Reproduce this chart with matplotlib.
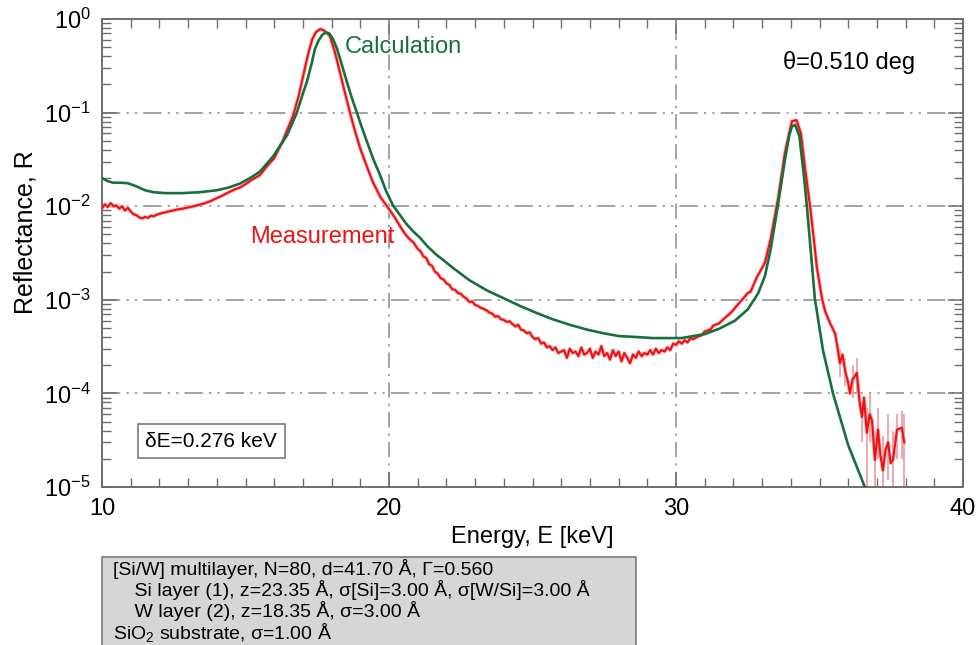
import matplotlib
matplotlib.use("Agg")
import matplotlib.pyplot as plt
from matplotlib.patches import Rectangle
from matplotlib.ticker import FixedLocator, LogLocator, NullFormatter

plt.rcParams['font.family'] = ['Liberation Sans', 'DejaVu Sans']
plt.rcParams['mathtext.fontset'] = 'custom'
plt.rcParams['mathtext.rm'] = 'Liberation Sans'
plt.rcParams['mathtext.it'] = 'Liberation Sans:italic'

# ---------------- data ----------------
calc_E = [10.0, 10.2, 10.4, 10.7, 10.9, 11.2, 11.5, 11.8, 12.2, 12.8, 13.4, 14.0, 14.4,
          14.8, 15.16, 15.5, 15.96, 16.45, 16.79, 17.0, 17.14, 17.3, 17.42, 17.55, 17.68,
          17.8, 17.92, 18.05, 18.19, 18.35, 18.53, 18.7, 18.88, 19.05, 19.23, 19.45, 19.69,
          19.9, 20.14, 20.4, 20.6, 20.84, 21.08, 21.35, 21.67, 21.95, 22.23, 22.8, 23.41,
          24.11, 24.6, 25.16, 25.7, 26.31, 26.9, 27.46, 28.0, 28.64, 29.2, 29.69, 30.2,
          30.6, 31.0, 31.5, 32.06, 32.5, 32.86, 33.1, 33.3, 33.55, 33.8, 33.95, 34.04,
          34.15, 34.3, 34.45, 34.56, 34.7, 34.84, 35.12, 35.47, 36.0, 36.58, 36.8]
calc_R = [0.0200, 0.0185, 0.0178, 0.0178, 0.0176, 0.0163, 0.0148, 0.0141, 0.0138, 0.0138,
          0.0141, 0.0148, 0.0158, 0.0174, 0.0200, 0.0234, 0.034, 0.0575, 0.100, 0.160,
          0.214, 0.33, 0.48, 0.59, 0.68, 0.72, 0.70, 0.61, 0.48, 0.33, 0.214, 0.145, 0.100,
          0.070, 0.049, 0.032, 0.0214, 0.0145, 0.0102, 0.0079, 0.0065, 0.0054, 0.0046,
          0.0037, 0.0030, 0.00257, 0.00219, 0.00162, 0.00126, 0.00100, 0.00085, 0.00072,
          0.00062, 0.00054, 0.00048, 0.00044, 0.00041, 0.00040, 0.00039, 0.00039, 0.00039,
          0.00041, 0.00043, 0.00049, 0.00060, 0.00079, 0.00117, 0.0018, 0.0035, 0.0102,
          0.032, 0.058, 0.071, 0.074, 0.056, 0.022, 0.0100, 0.0032, 0.00102, 0.00029,
          0.000100, 0.000028, 0.0000100, 0.0000071]

meas_E = [10.0, 10.1, 10.2, 10.3, 10.4, 10.5, 10.6, 10.7, 10.8, 10.9, 11.0, 11.1, 11.2,
          11.3, 11.4, 11.5, 11.6, 11.7, 11.8, 11.9, 12.0, 12.2, 12.4, 12.6, 12.8, 13.0,
          13.2, 13.4, 13.6, 13.8, 14.0, 14.2, 14.4, 14.6, 14.8, 15.0, 15.2, 15.5, 15.8,
          16.0, 16.3, 16.66, 16.85, 17.0, 17.18, 17.32, 17.45, 17.6, 17.72, 17.85, 17.94,
          18.1, 18.29, 18.45, 18.64, 18.8, 18.99, 19.2, 19.44, 19.7, 19.93,
          20.2, 20.4, 20.55, 20.7, 20.85, 21.0, 21.1, 21.2, 21.3, 21.4, 21.5, 21.6, 21.7,
          21.8, 21.9, 22.0, 22.1, 22.2, 22.3, 22.4, 22.5, 22.6, 22.7, 22.8, 22.9, 23.0,
          23.1, 23.2, 23.3, 23.4, 23.5, 23.6, 23.7, 23.8, 23.9, 24.0, 24.1, 24.2, 24.3,
          24.4, 24.5, 24.6, 24.7, 24.8, 24.9, 25.0, 25.1, 25.2, 25.3, 25.4, 25.5, 25.6,
          25.7, 25.8, 25.9, 26.0, 26.1, 26.2, 26.3,
          26.4, 26.5, 26.6, 26.7, 26.8, 26.9, 27.0, 27.1, 27.2, 27.3, 27.4, 27.5, 27.6,
          27.7, 27.8, 27.9, 28.0, 28.1, 28.2, 28.3, 28.4, 28.5, 28.6, 28.7, 28.8, 28.9,
          29.0, 29.1, 29.2, 29.3, 29.4, 29.5, 29.6, 29.7, 29.8, 29.9, 30.0, 30.1, 30.2,
          30.3, 30.4, 30.5, 30.6, 30.73, 30.9, 31.0, 31.2, 31.3, 31.5, 31.7, 31.9, 32.1,
          32.3, 32.5, 32.6, 32.8, 33.1, 33.3, 33.55, 33.8, 34.04, 34.2, 34.35, 34.5, 34.67,
          34.8, 34.91, 35.09, 35.2, 35.37, 35.54, 35.62, 35.71, 35.8, 35.9, 36.0, 36.06,
          36.15, 36.3, 36.4, 36.48, 36.55, 36.65, 36.75, 36.83, 36.93, 37.04, 37.12, 37.21,
          37.3, 37.39, 37.48, 37.56, 37.7, 37.87, 37.95]
meas_R = [0.0095, 0.0105, 0.0098, 0.0108, 0.0100, 0.0102, 0.0094, 0.0100, 0.0090, 0.0096,
          0.0088, 0.0082, 0.0080, 0.0076, 0.0074, 0.0077, 0.0075, 0.0079, 0.0078, 0.0081,
          0.0083, 0.0086, 0.0089, 0.0092, 0.0094, 0.0097, 0.0100, 0.0104, 0.0108, 0.0114,
          0.0122, 0.0130, 0.0140, 0.0150, 0.0158, 0.0172, 0.0190, 0.0215, 0.0280, 0.0325,
          0.050, 0.093, 0.15, 0.24, 0.42, 0.60, 0.72, 0.78, 0.76, 0.70, 0.66,
          0.46, 0.27, 0.17, 0.100, 0.066, 0.042, 0.028, 0.018, 0.0125, 0.0100,
          0.0076, 0.0060, 0.0051, 0.0045, 0.0041, 0.0035, 0.0033, 0.0029, 0.0028, 0.0024,
          0.0023, 0.0020, 0.0019, 0.0017, 0.00165, 0.00150, 0.00145, 0.00130, 0.00128,
          0.00118, 0.00116, 0.00108, 0.00103, 0.00095, 0.00096, 0.00088, 0.00086, 0.00082,
          0.00080, 0.00077, 0.00073, 0.00071, 0.00066, 0.00067, 0.00062, 0.00061, 0.00058,
          0.00059, 0.00055, 0.00052, 0.00054, 0.00048, 0.00047, 0.00044, 0.00045, 0.00040,
          0.00038, 0.00039, 0.00034, 0.00035, 0.00031, 0.00032, 0.00029, 0.00031, 0.00027,
          0.00028, 0.00029, 0.00024, 0.00030, 0.00027,
          0.00028, 0.00025, 0.00031, 0.00026, 0.00027, 0.00030, 0.00024, 0.00028, 0.00026,
          0.00032, 0.00025, 0.00027, 0.00023, 0.00029, 0.00025, 0.00028, 0.00022, 0.00027,
          0.00024, 0.00021, 0.00026, 0.00024, 0.00028, 0.00025, 0.00027, 0.00026, 0.00029,
          0.00026, 0.00030, 0.00027, 0.00029, 0.00028, 0.00031, 0.00029, 0.00034, 0.00033,
          0.00036, 0.00034, 0.00037, 0.00035, 0.00039, 0.00038, 0.00040, 0.00042, 0.00046,
          0.00048, 0.00053, 0.00056, 0.00064, 0.00072, 0.00085, 0.00100, 0.00118, 0.00122,
          0.00170, 0.0025, 0.0045, 0.0117, 0.038, 0.081, 0.083, 0.060, 0.025, 0.0100, 0.0045,
          0.0022, 0.00102, 0.00075, 0.00056, 0.00044, 0.00032, 0.00021, 0.00026, 0.00017,
          0.00013, 0.00010, 0.00014, 0.000166, 0.000080, 0.000056, 0.000090, 0.000038,
          0.000060, 0.000051, 0.0000195, 0.000041, 0.000022, 0.000015, 0.000025, 0.000030,
          0.000018, 0.0000195, 0.000041, 0.000043, 0.000030]

# error bars on the high-energy tail of the measurement
err_E = [35.71, 35.9, 36.15, 36.3, 36.48, 36.65, 36.75, 36.93, 37.04, 37.21, 37.39,
         37.56, 37.7, 37.87, 37.95]
err_lo = [0.00015, 0.00012, 0.00009, 0.00010, 0.00003, 0.000008, 0.00003, 0.000005,
          0.00002, 0.000005, 0.000012, 0.000005, 0.00002, 0.00002, 0.000005]
err_hi = [0.00030, 0.00024, 0.00020, 0.00024, 0.00008, 0.00007, 0.00010, 0.00004,
          0.00007, 0.000035, 0.00006, 0.00004, 0.00006, 0.000065, 0.00006]

x_major = [10, 20, 30, 40]
y_major = [1e-5, 1e-4, 1e-3, 1e-2, 1e-1, 1e0]

info_lines = ["[Si/W] multilayer, N=80, d=41.70 Å, Γ=0.560",
              "    Si layer (1), z=23.35 Å, σ[Si]=3.00 Å, σ[W/Si]=3.00 Å",
              "    W layer (2), z=18.35 Å, σ=3.00 Å",
              "SiO$\\mathregular{_2}$ substrate, σ=1.00 Å"]

# ---------------- figure ----------------
W, H = 979, 645
fig = plt.figure(figsize=(W / 100, H / 100), dpi=100)
ax = fig.add_axes([102 / W, 1 - 487 / H, 861 / W, 468 / H])

ax.set_yscale('log')
ax.set_xlim(10, 40)
ax.set_ylim(1e-5, 1e0)

spine_c = '#6e6e6e'
grid_c = '#8a8a8a'

# grid
for yv in y_major[1:-1]:
    ax.axhline(yv, color=grid_c, lw=1.1, ls=(0, (12, 4, 1.5, 4, 1.5, 4)), zorder=1)
for xv in x_major[1:-1]:
    ax.axvline(xv, color=grid_c, lw=1.1, ls=(0, (10, 4, 1.5, 4)), zorder=1)

# measurement halo + error bars
ax.plot(meas_E, meas_R, color='#f7b8be', lw=2.8, zorder=2, solid_joinstyle='round')
ax.vlines(err_E, err_lo, err_hi, color='#e8a3ab', lw=1.3, zorder=2)
ax.plot(meas_E, meas_R, color='#ee1111', lw=1.5, zorder=3)
ax.plot(calc_E, calc_R, color='#17703c', lw=1.9, zorder=4)

# ticks
ax.xaxis.set_major_locator(FixedLocator(x_major))
ax.xaxis.set_minor_locator(FixedLocator(list(range(11, 40))))
ax.yaxis.set_major_locator(FixedLocator(y_major))
ax.yaxis.set_minor_locator(LogLocator(base=10, subs=[2, 3, 4, 5, 6, 7, 8, 9], numticks=20))
ax.yaxis.set_minor_formatter(NullFormatter())
ax.set_yticklabels(['$\\mathdefault{10^{-5}}$', '$\\mathdefault{10^{-4}}$',
                    '$\\mathdefault{10^{-3}}$', '$\\mathdefault{10^{-2}}$',
                    '$\\mathdefault{10^{-1}}$', '$\\mathdefault{10^{0}}$'])
ax.set_xticklabels([str(v) for v in x_major])
ax.tick_params(which='both', direction='in', top=True, right=True, color=spine_c,
               labelsize=17, labelcolor='black')
ax.tick_params(which='major', length=11, width=1.1, pad=8)
ax.tick_params(which='minor', length=6.5, width=1.0)
for s in ax.spines.values():
    s.set_color(spine_c)
    s.set_linewidth(1.4)

ax.set_xlabel('Energy, E [keV]', fontsize=17, labelpad=4)
ax.set_ylabel('Reflectance, R', fontsize=18)
ax.yaxis.set_label_coords(-0.075, 0.545)

# annotations
ax.text(0.282, 0.94, 'Calculation', transform=ax.transAxes, color='#17703c',
        fontsize=17, ha='left', va='center')
ax.text(0.172, 0.534, 'Measurement', transform=ax.transAxes, color='#ee1111',
        fontsize=17, ha='left', va='center')
ax.text(0.944, 0.908, 'θ=0.510 deg', transform=ax.transAxes, color='black',
        fontsize=17, ha='right', va='center')
ax.text(0.127, 0.098, 'δE=0.276 keV', transform=ax.transAxes, color='black',
        fontsize=15, ha='center', va='center',
        bbox=dict(boxstyle='square,pad=0.35', fc='white', ec='#6e6e6e', lw=1.1))

# info box at bottom (extends past figure edge)
rect = Rectangle((102 / W, -0.05), (636 - 102) / W, (0.05 + 1 - 557 / H),
                 transform=fig.transFigure, facecolor='#d6d6d6', edgecolor='#7a7a7a',
                 lw=1.2, zorder=0)
fig.patches.append(rect)
line_y = [569, 590, 611, 632]
for txt, yy in zip(info_lines, line_y):
    fig.text(113 / W, 1 - yy / H, txt, fontsize=14, ha='left', va='center', color='black')

fig.savefig('out.png', dpi=100)
